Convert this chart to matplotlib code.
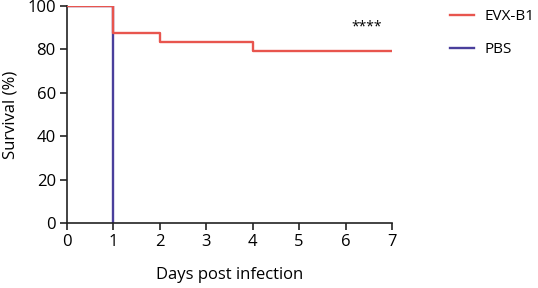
import matplotlib.pyplot as plt

# survival data (Kaplan-Meier steps)
evx_days = [0, 1, 2, 4, 7]
evx_surv = [100, 87.5, 83.3, 79.2, 79.2]
pbs_days = [0, 1, 1]
pbs_surv = [100, 100, 0]

x_ticks = [0, 1, 2, 3, 4, 5, 6, 7]
y_ticks = [0, 20, 40, 60, 80, 100]

RED = "#e8554e"
BLUE = "#4a3f9c"

plt.rcParams['font.family'] = ['Open Sans', 'DejaVu Sans']

fig = plt.figure(figsize=(5.38, 2.88), dpi=100)
ax = fig.add_axes([0.1245, 0.226, 0.604, 0.753])

ax.plot(pbs_days, pbs_surv, color=BLUE, lw=1.7, label="PBS", zorder=2)
ax.step(evx_days, evx_surv, where="post", color=RED, lw=1.7, label="EVX-B1", zorder=3)

ax.text(6.45, 90.5, "****", ha="center", va="center", fontsize=10)

ax.set_xlim(0, 7)
ax.set_ylim(0, 100)
ax.set_xticks(x_ticks)
ax.set_yticks(y_ticks)
ax.tick_params(labelsize=12, width=1.2, length=5, color="#222222", pad=3)
ax.set_xlabel("Days post infection", fontsize=12, labelpad=12)
ax.set_ylabel("Survival (%)", fontsize=12, labelpad=6)
for s in ["top", "right"]:
    ax.spines[s].set_visible(False)
for s in ["left", "bottom"]:
    ax.spines[s].set_linewidth(1.2)
    ax.spines[s].set_color("#222222")
    ax.spines[s].set_clip_on(False)

handles, labels = ax.get_legend_handles_labels()
ax.legend(handles[::-1], labels[::-1], loc="upper left", bbox_to_anchor=(1.135, 1.05),
          frameon=False, fontsize=11, handlelength=1.6, handletextpad=0.7, labelspacing=1.2)

fig.savefig("out.png", dpi=100)
